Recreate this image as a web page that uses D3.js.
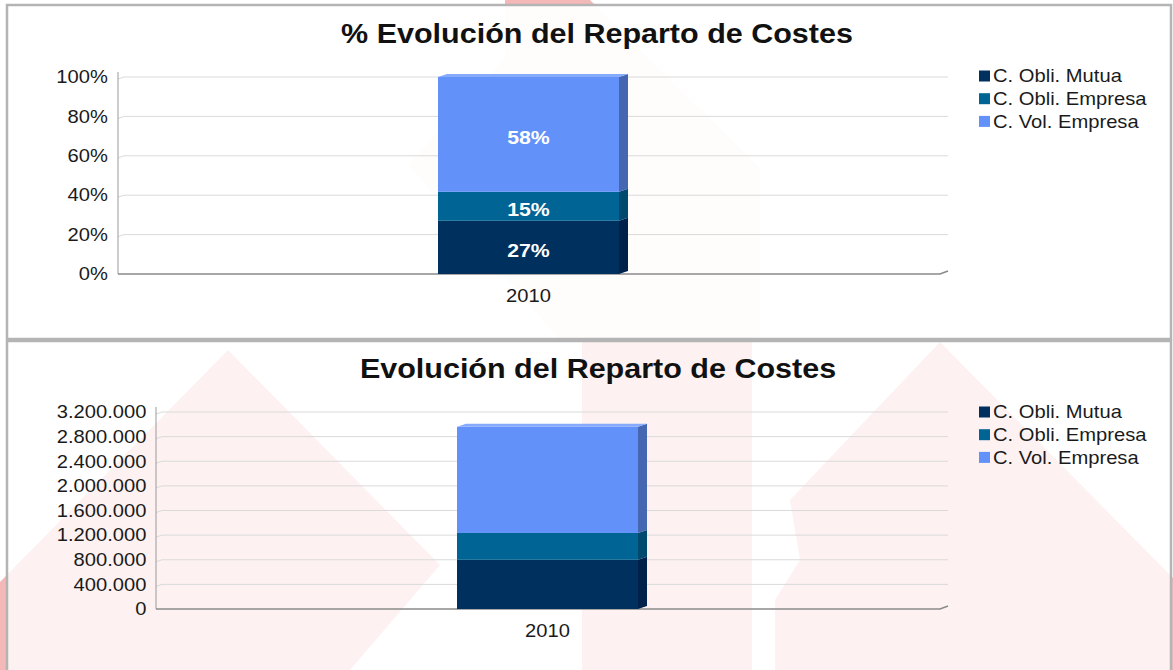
<!DOCTYPE html>
<html>
<head>
<meta charset="utf-8">
<script src="https://cdn.jsdelivr.net/npm/d3@7"></script>
<style>
    body {
        margin: 0;
        background: white;
    }

    svg {
        display: block;
        font-family: "Liberation Sans", Arial, sans-serif;
    }
</style>
</head>
<body>
<svg id="chart" width="1173" height="670"></svg>
<script>
    // data
    const years = ["2010"]
    const series = ["C. Obli. Mutua", "C. Obli. Empresa", "C. Vol. Empresa"]
    const costs2010 = [800000, 435000, 1725000]
    const pctTicks = [0, 0.2, 0.4, 0.6, 0.8, 1]
    const euroTicks = [0, 400000, 800000, 1200000, 1600000, 2000000, 2400000, 2800000, 3200000]

    const colors = ["#00305e", "#006494", "#6191f9"]
    const sideColors = ["#00224a", "#004a70", "#4566b0"]
    const sx = 1.12      // the picture is a bit wider than tall
    const depth = [9, 3] // 3d offset of the bars

    const es = d3.formatLocale({ decimal: ",", thousands: ".", grouping: [3], currency: ["", " €"] })

    const rows = years.map(y => {
        const r = { year: y }
        series.forEach((s, i) => r[s] = costs2010[i])
        return r
    })

    const svg = d3.select("#chart")

    // pale logo in the background
    const watermark = [
        [[505, 0], [590, 0], [760, 168], [760, 340], [560, 340], [408, 165], [505, 58]],
        [[228, 350], [440, 565], [350, 670], [0, 670], [0, 582]],
        [[582, 340], [752, 340], [752, 670], [582, 670]],
        [[940, 342], [1173, 578], [1173, 670], [775, 670], [775, 600], [800, 560], [790, 500]]
    ]
    svg.append("g")
        .selectAll("polygon")
        .data(watermark)
        .join("polygon")
        .attr("points", d => d.join(" "))
        .attr("fill", "#f4b8b8")

    function drawChart(opts) {
        const g = svg.append("g")

        g.append("rect")
            .attr("x", 7).attr("y", opts.top)
            .attr("width", 1164).attr("height", opts.height)
            .attr("fill", "white")
            .attr("fill-opacity", opts.panelOpacity)
            .attr("stroke", "#b4b4b4")
            .attr("stroke-width", 2.5)

        g.append("text")
            .attr("transform", `translate(${opts.titleX},${opts.titleY}) scale(1.09,1)`)
            .attr("text-anchor", "middle")
            .attr("font-size", 28)
            .attr("font-weight", "bold")
            .attr("fill", "#111")
            .text(opts.title)

        const stack = d3.stack().keys(series)
        if (opts.percent) stack.offset(d3.stackOffsetExpand)
        const layers = stack(rows)

        const y = d3.scaleLinear()
            .domain(opts.domain)
            .range([opts.y0, opts.y1])

        const barW = 181
        const plotW = opts.x1 - depth[0] - opts.x0
        const x = d3.scaleBand()
            .domain(years)
            .range([opts.x0, opts.x1 - depth[0]])
            .paddingInner(0)
            .paddingOuter((plotW / barW - 1) / 2)

        // gridlines
        g.append("g")
            .selectAll("path")
            .data(opts.ticks.filter(t => t > 0))
            .join("path")
            .attr("d", t => `M${opts.x0},${y(t) + 2}L${opts.x0 + 6},${y(t)}L${opts.x1},${y(t)}`)
            .attr("fill", "none")
            .attr("stroke", "#dadada")
            .attr("stroke-width", 1)

        // axis lines
        g.append("path")
            .attr("d", `M${opts.x0},${opts.y1 - 5}L${opts.x0},${opts.y0}`)
            .attr("stroke", "#9a9a9a")
            .attr("fill", "none")
        g.append("path")
            .attr("d", `M${opts.x0},${opts.y0}L${opts.x1 - 8},${opts.y0}L${opts.x1},${opts.y0 - 3}`)
            .attr("stroke", "#8a8a8a")
            .attr("stroke-width", 1.5)
            .attr("fill", "none")

        const yAxis = g.append("g")
            .attr("transform", `translate(${opts.x0},0)`)
            .call(d3.axisLeft(y).tickValues(opts.ticks).tickSize(0).tickPadding(opts.pad).tickFormat(opts.format))
        yAxis.select(".domain").remove()
        yAxis.attr("font-size", 18).attr("font-family", null)
        yAxis.selectAll("text")
            .attr("fill", "#1a1a1a")
            .attr("transform", `scale(${sx},1)`)

        // bars
        const bw = x.bandwidth()
        const seg = g.append("g")
            .selectAll("g")
            .data(layers)
            .join("g")

        seg.selectAll(".side")
            .data((d, i) => d.map(p => ({ p, i })))
            .join("polygon")
            .attr("class", "side")
            .attr("fill", d => sideColors[d.i])
            .attr("points", d => {
                const x1 = x(d.p.data.year) + bw
                const ya = y(d.p[1]), yb = y(d.p[0])
                return [[x1, ya], [x1 + depth[0], ya - depth[1]], [x1 + depth[0], yb - depth[1]], [x1, yb]].join(" ")
            })

        seg.selectAll(".front")
            .data((d, i) => d.map(p => ({ p, i })))
            .join("rect")
            .attr("class", "front")
            .attr("fill", d => colors[d.i])
            .attr("x", d => x(d.p.data.year))
            .attr("width", bw)
            .attr("y", d => y(d.p[1]))
            .attr("height", d => y(d.p[0]) - y(d.p[1]))

        // top face of the last segment
        const last = layers[layers.length - 1]
        g.append("g")
            .selectAll("polygon")
            .data(last)
            .join("polygon")
            .attr("fill", "#86aafc")
            .attr("points", d => {
                const x0 = x(d.data.year), ya = y(d[1])
                return [[x0, ya], [x0 + depth[0], ya - depth[1]], [x0 + bw + depth[0], ya - depth[1]], [x0 + bw, ya]].join(" ")
            })

        if (opts.percent) {
            const pct = d3.format(".0%")
            g.append("g")
                .selectAll("text")
                .data(layers.map(l => l[0]))
                .join("text")
                .attr("transform", d => `translate(${x(d.data.year) + bw / 2},${(y(d[0]) + y(d[1])) / 2 + 3}) scale(${sx},1)`)
                .attr("text-anchor", "middle")
                .attr("dy", "0.35em")
                .attr("font-size", 19)
                .attr("font-weight", "bold")
                .attr("fill", "white")
                .text(d => pct(d[1] - d[0]))
        }

        // category label
        g.append("g")
            .selectAll("text")
            .data(years)
            .join("text")
            .attr("transform", d => `translate(${x(d) + bw / 2},${opts.y0 + 28}) scale(${sx},1)`)
            .attr("text-anchor", "middle")
            .attr("font-size", 18)
            .attr("fill", "#1a1a1a")
            .text(d => d)

        // legend
        const legend = g.append("g")
            .selectAll("g")
            .data(series)
            .join("g")
            .attr("transform", (d, i) => `translate(979,${opts.legendY + i * 22.7})`)
        legend.append("rect")
            .attr("x", 0).attr("y", -5.5)
            .attr("width", 11).attr("height", 11)
            .attr("fill", (d, i) => colors[i])
        legend.append("text")
            .attr("transform", `translate(14,0) scale(${sx},1)`)
            .attr("dy", "0.35em")
            .attr("font-size", 18)
            .attr("fill", "#1a1a1a")
            .text(d => d)
    }

    drawChart({
        top: 5, height: 334, panelOpacity: 0.95,
        title: "% Evolución del Reparto de Costes", titleX: 597, titleY: 43,
        x0: 118, x1: 948, y0: 274, y1: 77,
        domain: [0, 1], ticks: pctTicks, format: d3.format(".0%"), pad: 9,
        percent: true, legendY: 76
    })

    drawChart({
        top: 341, height: 340, panelOpacity: 0.8,
        title: "Evolución del Reparto de Costes", titleX: 598, titleY: 378,
        x0: 156, x1: 948, y0: 609, y1: 412,
        domain: [0, 3200000], ticks: euroTicks, format: es.format(",.0f"), pad: 8.5,
        percent: false, legendY: 412
    })
</script>
</body>
</html>
